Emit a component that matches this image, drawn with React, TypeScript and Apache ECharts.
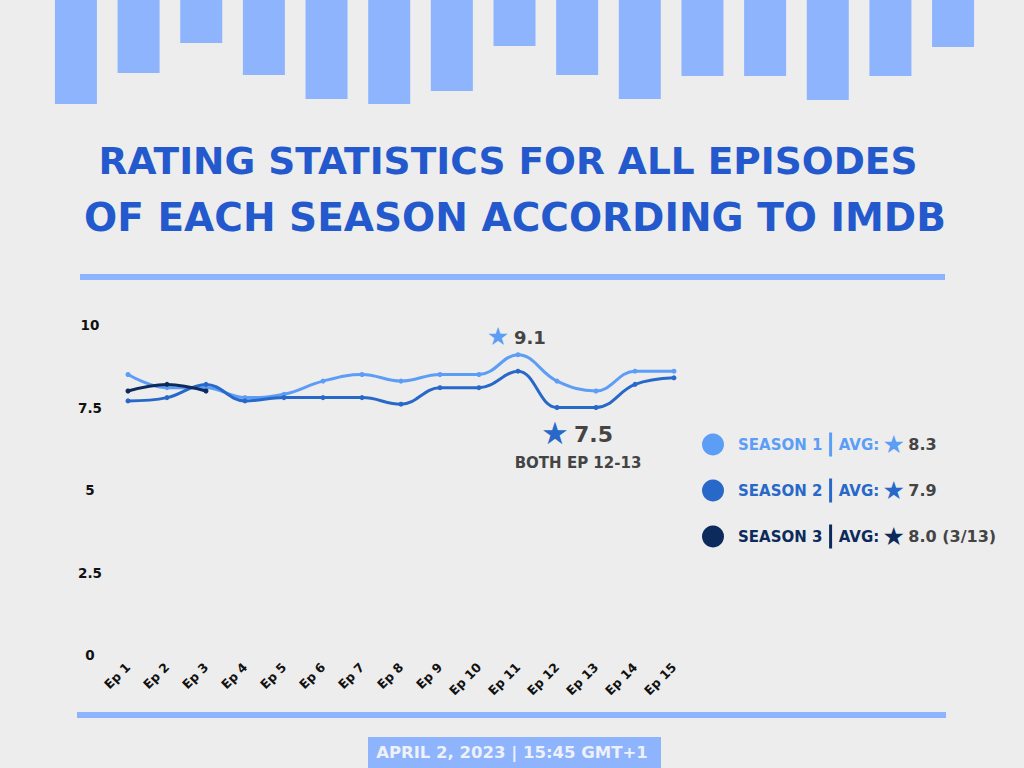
import React, { useEffect, useRef } from "react";
import * as echarts from "echarts";

const episodes = ["Ep 1","Ep 2","Ep 3","Ep 4","Ep 5","Ep 6","Ep 7","Ep 8","Ep 9","Ep 10","Ep 11","Ep 12","Ep 13","Ep 14","Ep 15"];
const season1 = [8.5, 8.1, 8.1, 7.8, 7.9, 8.3, 8.5, 8.3, 8.5, 8.5, 9.1, 8.3, 8.0, 8.6, 8.6];
const season2 = [7.7, 7.8, 8.2, 7.7, 7.8, 7.8, 7.8, 7.6, 8.1, 8.1, 8.6, 7.5, 7.5, 8.2, 8.4];
const season3 = [8.0, 8.2, 8.0];
const seasonNames = ["SEASON 1", "SEASON 2", "SEASON 3"];
const seasonAvg = ["8.3", "7.9", "8.0 (3/13)"];
const topBars = [104, 73, 43, 75, 99, 104, 91, 46, 75, 99, 76, 76, 100, 76, 47];
const yTicks = [0, 2.5, 5, 7.5, 10];
const titleLines = ["RATING STATISTICS FOR ALL EPISODES", "OF EACH SEASON ACCORDING TO IMDB"];

const C1 = "#5c9df6";
const C2 = "#2868c8";
const C3 = "#0c2a5b";
const BAR = "#8fb4fe";
const TITLE = "#2359cc";
const GREY = "#444444";
const FONT = "DejaVu Sans";

export default function App() {
  const ref = useRef<HTMLDivElement>(null);
  useEffect(() => {
    document.body.style.margin = "0";
    const chart = echarts.init(ref.current!, null, { renderer: "svg" });
    const colors = [C1, C2, C3];
    const legendRich: any = { gap: { width: 9 } };
    colors.forEach((c, i) => {
      legendRich["s" + i] = { color: c, fontSize: 15, fontWeight: "bold", fontFamily: FONT };
      legendRich["b" + i] = { backgroundColor: c, width: 3, height: 24, padding: 0 };
      legendRich["a" + i] = { color: c, fontSize: 15, fontWeight: "bold", fontFamily: FONT };
      legendRich["t" + i] = { color: c, fontSize: 25, fontFamily: FONT };
    });
    legendRich.v = { color: GREY, fontSize: 16, fontWeight: "bold", fontFamily: FONT };

    const option: any = {
      animation: false,
      backgroundColor: "#ededed",
      grid: [
        { left: 44.6, top: 0, width: 939.8, height: 110 },
        { left: 128, top: 325, width: 546, height: 330 },
      ],
      xAxis: [
        { type: "category", gridIndex: 0, data: episodes, show: false },
        {
          type: "category",
          gridIndex: 1,
          data: episodes,
          boundaryGap: false,
          axisLine: { show: false },
          axisTick: { show: false },
          axisLabel: { rotate: 45, margin: 10, color: "#111", fontSize: 12.5, fontWeight: "bold", fontFamily: FONT, interval: 0 },
        },
      ],
      yAxis: [
        { type: "value", gridIndex: 0, inverse: true, min: 0, max: 110, show: false },
        {
          type: "value",
          gridIndex: 1,
          min: 0,
          max: 10,
          interval: 2.5,
          splitLine: { show: false },
          axisLine: { show: false },
          axisTick: { show: false },
          axisLabel: {
            margin: 38,
            align: "center",
            color: "#111",
            fontSize: 13.5,
            fontWeight: "bold",
            fontFamily: FONT,
            customValues: yTicks,
          },
        },
      ],
      legend: {
        orient: "vertical",
        left: 697,
        top: 427,
        itemWidth: 22,
        itemHeight: 22,
        itemGap: 21,
        icon: "circle",
        data: seasonNames,
        formatter: (name: string) => {
          const i = seasonNames.indexOf(name);
          return `{gap|}{s${i}|${name}}  {b${i}|}  {a${i}|AVG:} {t${i}|★} {v|${seasonAvg[i]}}`;
        },
        textStyle: { rich: legendRich },
      },
      series: [
        {
          type: "bar",
          xAxisIndex: 0,
          yAxisIndex: 0,
          data: topBars,
          barWidth: 42,
          itemStyle: { color: BAR },
          silent: true,
        },
        {
          name: seasonNames[0],
          type: "line",
          xAxisIndex: 1,
          yAxisIndex: 1,
          data: season1,
          smooth: 0.4,
          symbol: "circle",
          symbolSize: 5,
          lineStyle: { width: 3, color: C1 },
          itemStyle: { color: C1 },
        },
        {
          name: seasonNames[1],
          type: "line",
          xAxisIndex: 1,
          yAxisIndex: 1,
          data: season2,
          smooth: 0.4,
          symbol: "circle",
          symbolSize: 5,
          lineStyle: { width: 3, color: C2 },
          itemStyle: { color: C2 },
        },
        {
          name: seasonNames[2],
          type: "line",
          xAxisIndex: 1,
          yAxisIndex: 1,
          data: season3,
          smooth: 0.4,
          symbol: "circle",
          symbolSize: 5,
          lineStyle: { width: 3, color: C3 },
          itemStyle: { color: C3 },
        },
      ],
      graphic: [
        {
          type: "text",
          x: 508,
          y: 161,
          style: { text: titleLines[0], fill: TITLE, font: `bold 37.5px ${FONT}`, align: "center", verticalAlign: "middle" },
        },
        {
          type: "text",
          x: 515,
          y: 217,
          style: { text: titleLines[1], fill: TITLE, font: `bold 39px ${FONT}`, align: "center", verticalAlign: "middle" },
        },
        { type: "rect", shape: { x: 80, y: 274, width: 865, height: 6 }, style: { fill: BAR } },
        { type: "rect", shape: { x: 77, y: 712, width: 869, height: 6 }, style: { fill: BAR } },
        { type: "rect", shape: { x: 368, y: 737, width: 293, height: 31 }, style: { fill: BAR } },
        {
          type: "text",
          x: 512,
          y: 752,
          style: { text: "APRIL 2, 2023 | 15:45 GMT+1", fill: "#eef1f7", font: `bold 16.5px ${FONT}`, align: "center", verticalAlign: "middle" },
        },
        {
          type: "text",
          x: 498,
          y: 336,
          style: { text: "★", fill: C1, font: `25px ${FONT}`, align: "center", verticalAlign: "middle" },
        },
        {
          type: "text",
          x: 514,
          y: 337,
          style: { text: "9.1", fill: GREY, font: `bold 18px ${FONT}`, align: "left", verticalAlign: "middle" },
        },
        {
          type: "text",
          x: 555,
          y: 433,
          style: { text: "★", fill: C2, font: `31px ${FONT}`, align: "center", verticalAlign: "middle" },
        },
        {
          type: "text",
          x: 574,
          y: 434,
          style: { text: "7.5", fill: GREY, font: `bold 22px ${FONT}`, align: "left", verticalAlign: "middle" },
        },
        {
          type: "text",
          x: 578,
          y: 463,
          style: { text: "BOTH EP 12-13", fill: GREY, font: `bold 15px ${FONT}`, align: "center", verticalAlign: "middle" },
        },
      ],
    };
    chart.setOption(option);
    return () => chart.dispose();
  }, []);
  return <div ref={ref} style={{ position: "absolute", left: 0, top: 0, width: 1024, height: 768 }} />;
}
